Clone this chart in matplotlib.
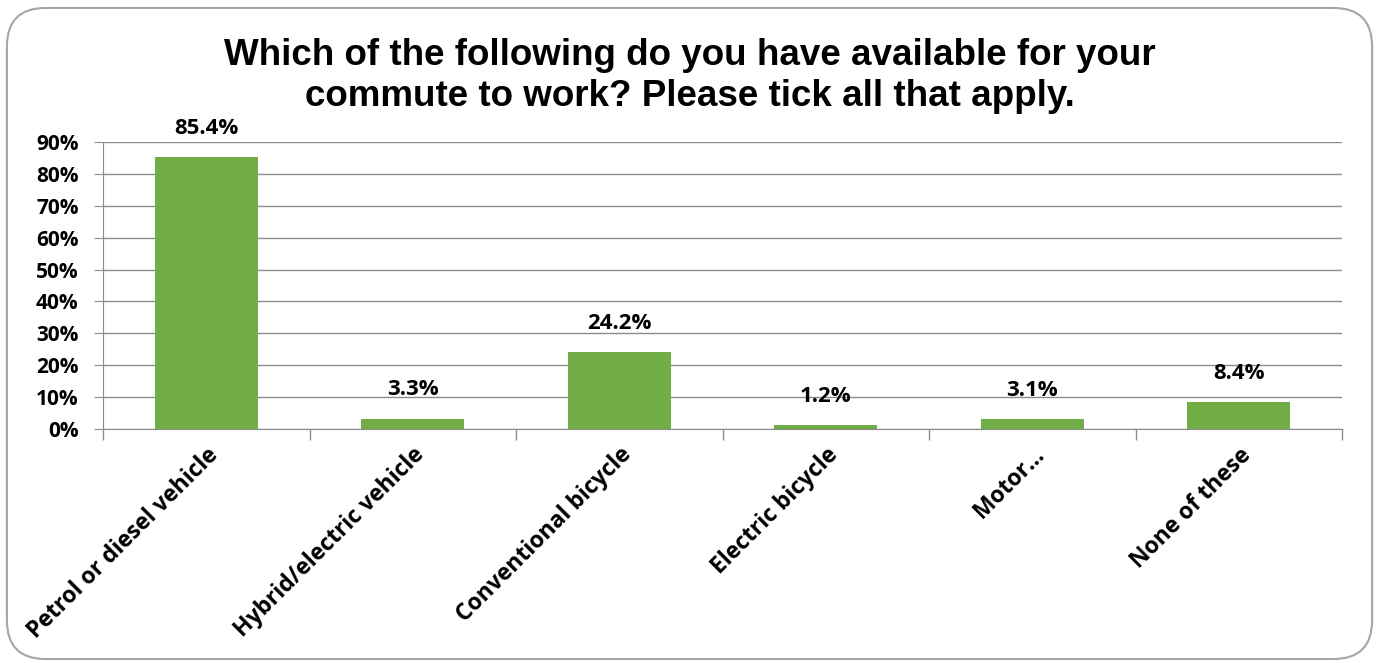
import matplotlib.pyplot as plt
from matplotlib.patches import FancyBboxPatch
from matplotlib.ticker import FixedLocator

categories = ["Petrol or diesel vehicle", "Hybrid/electric vehicle", "Conventional bicycle",
              "Electric bicycle", "Motor\u2026", "None of these"]
shares = [85.4, 3.3, 24.2, 1.2, 3.1, 8.4]
y_ticks = [0, 10, 20, 30, 40, 50, 60, 70, 80, 90]

BAR = "#70AD47"
GRID = "#8C8C8C"
LABEL_FONT = ["Open Sans", "DejaVu Sans"]

fig = plt.figure(figsize=(13.79, 6.63), dpi=100)

# rounded frame around the whole chart
frame = FancyBboxPatch((0.005, 0.006), 0.99, 0.982, boxstyle="round,pad=0,rounding_size=0.028",
                       transform=fig.transFigure, facecolor="none", edgecolor="#A6A6A6",
                       linewidth=1.5, mutation_aspect=1379 / 663, zorder=0)
fig.patches.append(frame)

ax = fig.add_axes([0.0747, 0.3529, 0.8985, 0.4329])
ax.set_facecolor("none")
x = list(range(len(categories)))
ax.bar(x, shares, width=0.5, color=BAR, zorder=3)

for xi, v in zip(x, shares):
    ax.annotate(f"{v:.1f}%", (xi, v), xytext=(0, 13), textcoords="offset points",
                ha="center", va="bottom", fontsize=16, fontweight="bold",
                family=LABEL_FONT, zorder=4)

ax.set_xlim(-0.5, len(categories) - 0.5)
ax.set_ylim(0, 90)
ax.set_yticks(y_ticks)
ax.set_yticklabels([f"{t}%" for t in y_ticks], fontsize=15, fontweight="bold", family=LABEL_FONT)
ax.yaxis.grid(True, color=GRID, linewidth=1, zorder=0)
ax.tick_params(axis="y", length=6.5, color=GRID, pad=11)

ax.set_xticks(x)
ax.set_xticklabels(categories, rotation=45, ha="right", va="top", rotation_mode="anchor",
                   fontsize=16.5, fontweight="bold", family=LABEL_FONT)
ax.tick_params(axis="x", length=0, pad=10)
ax.xaxis.set_minor_locator(FixedLocator([i - 0.5 for i in range(len(categories) + 1)]))
ax.tick_params(axis="x", which="minor", length=8, color=GRID, width=1)

for side in ["top", "right"]:
    ax.spines[side].set_visible(False)
ax.spines["left"].set_color(GRID)
ax.spines["bottom"].set_color(GRID)

fig.text(0.5, 0.886, "Which of the following do you have available for your\ncommute to work? Please tick all that apply.",
         ha="center", va="center", fontsize=26.5, fontweight="bold", family="Liberation Sans",
         linespacing=1.22)

fig.savefig("out.png", dpi=100)
